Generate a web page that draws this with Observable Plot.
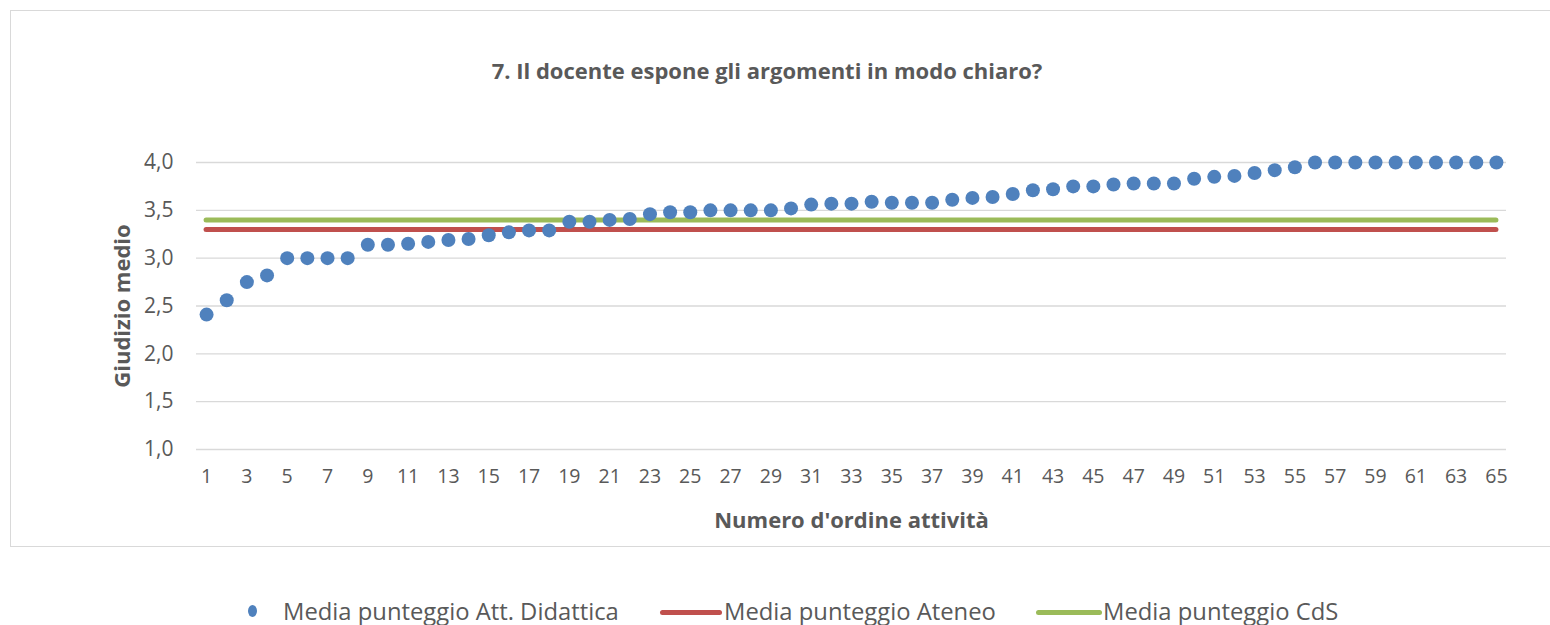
<!DOCTYPE html>
<html>
<head>
<meta charset="utf-8">
<script src="https://cdn.jsdelivr.net/npm/d3@7"></script>
<script src="https://cdn.jsdelivr.net/npm/@observablehq/plot@0.6"></script>
<style>
  html, body { margin: 0; padding: 0; background: #fff; width: 1550px; height: 625px; overflow: hidden; }
  body { font-family: "Open Sans", Lato, sans-serif; color: #595959; position: relative; }
  #frame { position: absolute; left: 10px; top: 10px; width: 1560px; height: 537px; border: 1px solid #d9d9d9; box-sizing: border-box; }
  #title { position: absolute; left: 0; top: 55px; width: 1534px; text-align: center; font-weight: bold; font-size: 22px; line-height: 30px; color: #595959; }
  #chart { position: absolute; left: 0; top: 100px; }
  .leg { position: absolute; top: 595px; font-size: 23.8px; line-height: 32px; color: #595959; white-space: nowrap; }
  .sw { position: absolute; }
</style>
</head>
<body>
<div id="frame"></div>
<div id="title">7. Il docente espone gli argomenti in modo chiaro?</div>
<div id="chart"></div>
<div class="sw" style="left:248px;top:605px;width:9px;height:12px;border-radius:50%;background:#4f81bd;"></div>
<div class="leg" style="left:283px;">Media punteggio Att. Didattica</div>
<div class="sw" style="left:660px;top:610px;width:62px;height:5px;border-radius:3px;background:#c0504d;"></div>
<div class="leg" style="left:724px;">Media punteggio Ateneo</div>
<div class="sw" style="left:1036px;top:610px;width:66px;height:5px;border-radius:3px;background:#9bbb59;"></div>
<div class="leg" style="left:1103px;">Media punteggio CdS</div>
<script>
// Categories (numero d'ordine attività)
const categories = [1,2,3,4,5,6,7,8,9,10,11,12,13,14,15,16,17,18,19,20,21,22,23,24,25,26,27,28,29,30,31,32,33,34,35,36,37,38,39,40,41,42,43,44,45,46,47,48,49,50,51,52,53,54,55,56,57,58,59,60,61,62,63,64,65];
// Media punteggio Att. Didattica
const mediaAttDidattica = [2.41,2.56,2.75,2.82,3.00,3.00,3.00,3.00,3.14,3.14,3.15,3.17,3.19,3.20,3.24,3.27,3.29,3.29,3.38,3.38,3.40,3.41,3.46,3.48,3.48,3.50,3.50,3.50,3.50,3.52,3.56,3.57,3.57,3.59,3.58,3.58,3.58,3.61,3.63,3.64,3.67,3.71,3.72,3.75,3.75,3.77,3.78,3.78,3.78,3.83,3.85,3.86,3.89,3.92,3.95,4.00,4.00,4.00,4.00,4.00,4.00,4.00,4.00,4.00,4.00];
// Media punteggio Ateneo / CdS
const mediaAteneo = 3.30;
const mediaCdS = 3.40;
// Tick labels
const xTicks = [1,3,5,7,9,11,13,15,17,19,21,23,25,27,29,31,33,35,37,39,41,43,45,47,49,51,53,55,57,59,61,63,65];
const yTicks = [1.0,1.5,2.0,2.5,3.0,3.5,4.0];
const yTickLabels = ["1,0","1,5","2,0","2,5","3,0","3,5","4,0"];

const points = categories.map((c, i) => ({x: c, y: mediaAttDidattica[i]}));
const firstCat = categories[0], lastCat = categories[categories.length - 1];

const chart = Plot.plot({
  width: 1550,
  height: 460,
  marginLeft: 196,
  marginRight: 44,
  marginTop: 62,
  marginBottom: 111,
  style: {fontFamily: "'Open Sans', Lato, sans-serif", color: "#595959", background: "transparent"},
  x: {type: "linear", domain: [firstCat - 0.5, lastCat + 0.5]},
  y: {domain: [1, 4]},
  marks: [
    Plot.gridY(yTicks, {stroke: "#d9d9d9", strokeOpacity: 1, strokeWidth: 1.4}),
    Plot.axisY(yTicks, {tickSize: 0, tickPadding: 23, fontSize: 21, label: null,
      tickFormat: d => yTickLabels[yTicks.indexOf(d)]}),
    Plot.axisX(xTicks, {tickSize: 0, tickPadding: 20, fontSize: 19.5, label: null, tickFormat: d => String(d)}),
    Plot.ruleY([mediaAteneo], {x1: firstCat, x2: lastCat, stroke: "#c0504d", strokeWidth: 5, strokeLinecap: "round"}),
    Plot.ruleY([mediaCdS], {x1: firstCat, x2: lastCat, stroke: "#9bbb59", strokeWidth: 5, strokeLinecap: "round"}),
    Plot.dot(points, {x: "x", y: "y", r: 7, fill: "#4f81bd", stroke: "none"}),
    Plot.text(["Giudizio medio"], {frameAnchor: "left", dx: -74, rotate: -90, textAnchor: "middle", lineAnchor: "middle", fontSize: 22, fontWeight: "bold", fill: "#595959"}),
    Plot.text(["Numero d'ordine attività"], {frameAnchor: "bottom", dy: 71, textAnchor: "middle", lineAnchor: "middle", fontSize: 22, fontWeight: "bold", fill: "#595959"})
  ]
});
document.getElementById("chart").appendChild(chart);
</script>
</body>
</html>
